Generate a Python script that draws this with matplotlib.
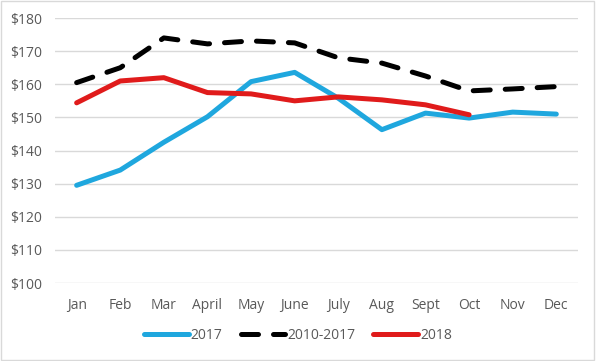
import numpy as np
import matplotlib.pyplot as plt
from matplotlib.patches import Rectangle

months = ['Jan', 'Feb', 'Mar', 'April', 'May', 'June', 'July', 'Aug', 'Sept', 'Oct', 'Nov', 'Dec']
y2017 = [129.5, 134.1, 142.5, 150.2, 160.8, 163.6, 155.8, 146.3, 151.3, 149.8, 151.6, 151.0]
avg_10_17 = [160.5, 165.0, 174.0, 172.2, 173.1, 172.5, 168.0, 166.4, 162.5, 158.0, 158.6, 159.3]
y2018 = [154.4, 161.0, 162.0, 157.5, 157.1, 155.0, 156.2, 155.3, 153.8, 150.8]
yticks = np.arange(100, 181, 10)

text_col = '#595959'
plt.rcParams['font.family'] = ['Open Sans', 'DejaVu Sans']

fig = plt.figure(figsize=(5.96, 3.61), dpi=100)
ax = fig.add_axes([0.092, 0.216, 0.878, 0.734])

x = np.arange(len(months))
ax.plot(x, y2017, color='#1FA7DE', lw=3.6, label='2017', solid_capstyle='round')
ax.plot(x, avg_10_17, color='black', lw=3.6, label='2010-2017',
        dashes=(3.4, 3.0), dash_capstyle='round')
ax.plot(x[:len(y2018)], y2018, color='#E01B1B', lw=3.6, label='2018', solid_capstyle='round')

ax.set_xlim(-0.5, 11.5)
ax.set_ylim(100, 180)
ax.set_yticks(yticks)
ax.set_yticklabels(['${}'.format(v) for v in yticks])
ax.set_xticks(x)
ax.set_xticklabels(months)
ax.tick_params(length=0, colors=text_col, labelsize=10)
ax.tick_params(axis='x', pad=11)
ax.tick_params(axis='y', pad=9)
ax.grid(axis='y', color='#D9D9D9', lw=1)
ax.set_axisbelow(True)
for s in ax.spines.values():
    s.set_visible(False)

leg = fig.legend(loc='center', bbox_to_anchor=(0.5, 0.07), ncol=3, frameon=False,
                 handlelength=3.2, handletextpad=0.15, columnspacing=1.3, fontsize=10)
for t in leg.get_texts():
    t.set_color(text_col)

fig.patches.append(Rectangle((0.002, 0.003), 0.995, 0.994, transform=fig.transFigure,
                             fill=False, edgecolor='#D9D9D9', lw=1))

fig.savefig('out.png', dpi=100)
